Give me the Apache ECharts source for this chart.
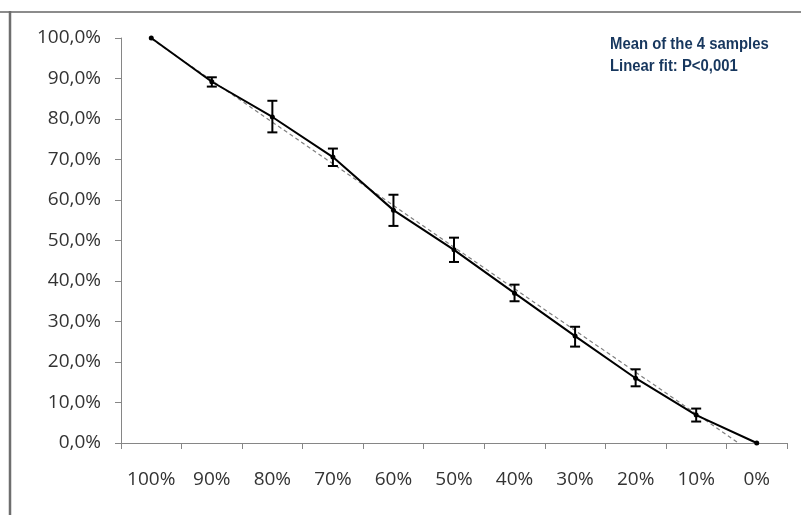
<!DOCTYPE html>
<html>
<head>
<meta charset="utf-8">
<script src="https://cdn.jsdelivr.net/npm/echarts@6/dist/echarts.min.js"></script>
<style>
html,body{margin:0;padding:0;background:#fff;}
#chart{width:801px;height:515px;}
</style>
</head>
<body>
<div id="chart"></div>
<script>
// Data
var categories = ['100%','90%','80%','70%','60%','50%','40%','30%','20%','10%','0%'];
var meanValues = [100, 89.2, 80.5, 70.6, 57.5, 47.7, 37.0, 26.4, 16.0, 6.9, 0];
var errLow  = [null, 88.0, 76.7, 68.4, 53.6, 44.7, 35.0, 23.8, 14.0, 5.3, null];
var errHigh = [null, 90.3, 84.5, 72.7, 61.3, 50.7, 39.1, 28.7, 18.2, 8.5, null];
var fitX = [0, 9.7];
var fitY = [99.8, 0];
var yTickLabels = ['0,0%','10,0%','20,0%','30,0%','40,0%','50,0%','60,0%','70,0%','80,0%','90,0%','100,0%'];
var noteLines = ['Mean of the 4 samples', 'Linear fit: P<0,001'];

var errData = [];
for (var i = 0; i < categories.length; i++) {
  if (errLow[i] !== null) errData.push([i, errLow[i], errHigh[i]]);
}
var fitData = fitX.map(function (x, k) { return [x, fitY[k]]; });

var chart = echarts.init(document.getElementById('chart'), null, {renderer: 'canvas'});
var labelFont = '"Open Sans", "Noto Sans", sans-serif';
var noteFont = 'bold 16px "Liberation Sans Narrow", "Arial Narrow", "Liberation Sans", sans-serif';
var option = {
  animation: false,
  backgroundColor: '#ffffff',
  grid: {left: 121, top: 38, right: 14, bottom: 72, containLabel: false},
  xAxis: [{
    type: 'category',
    data: categories,
    boundaryGap: true,
    axisLine: {show: true, onZero: false, lineStyle: {color: '#868686', width: 1}},
    axisTick: {show: true, length: 6, alignWithLabel: false, lineStyle: {color: '#868686'}},
    axisLabel: {color: '#333', fontSize: 19, fontFamily: labelFont, margin: 27, interval: 0},
    splitLine: {show: false}
  }, {
    type: 'value',
    min: -0.5, max: 10.5,
    show: false,
    axisLine: {show: false, onZero: false}
  }],
  yAxis: {
    type: 'value',
    min: 0, max: 100, interval: 10,
    axisLine: {show: true, onZero: false, lineStyle: {color: '#868686', width: 1}},
    axisTick: {show: true, length: 6, lineStyle: {color: '#868686'}},
    axisLabel: {
      color: '#333', fontSize: 19, fontFamily: labelFont, margin: 20,
      formatter: function (v) { return yTickLabels[Math.round(v / 10)]; }
    },
    splitLine: {show: false}
  },
  graphic: [{
    type: 'text', left: 610, top: 37, scaleX: 0.93,
    style: {text: noteLines[0], fill: '#17375e', font: noteFont}
  }, {
    type: 'text', left: 610, top: 59, scaleX: 0.93,
    style: {text: noteLines[1], fill: '#17375e', font: noteFont}
  }, {
    type: 'line', shape: {x1: 0, y1: 12, x2: 801, y2: 12},
    style: {stroke: '#8c8c8c', lineWidth: 2}
  }, {
    type: 'line', shape: {x1: 10, y1: 11, x2: 10, y2: 515},
    style: {stroke: '#6e6e6e', lineWidth: 2.5}
  }],
  series: [{
    type: 'line',
    name: 'fit',
    xAxisIndex: 1,
    data: fitData,
    symbol: 'none',
    lineStyle: {color: '#7f7f7f', width: 1.2, type: [4, 3]},
    z: 2
  }, {
    type: 'line',
    name: 'mean',
    data: meanValues,
    symbol: 'circle',
    symbolSize: 5,
    itemStyle: {color: '#000'},
    lineStyle: {color: '#000', width: 2},
    z: 3
  }, {
    type: 'custom',
    name: 'err',
    data: errData,
    z: 4,
    renderItem: function (params, api) {
      var x = api.value(0);
      var lo = api.coord([x, api.value(1)]);
      var hi = api.coord([x, api.value(2)]);
      var hw = 5;
      var st = {stroke: '#000', lineWidth: 2};
      return {
        type: 'group',
        children: [
          {type: 'line', shape: {x1: lo[0], y1: lo[1], x2: hi[0], y2: hi[1]}, style: st},
          {type: 'line', shape: {x1: lo[0] - hw, y1: lo[1], x2: lo[0] + hw, y2: lo[1]}, style: st},
          {type: 'line', shape: {x1: hi[0] - hw, y1: hi[1], x2: hi[0] + hw, y2: hi[1]}, style: st}
        ]
      };
    }
  }]
};
chart.setOption(option);
</script>
</body>
</html>
